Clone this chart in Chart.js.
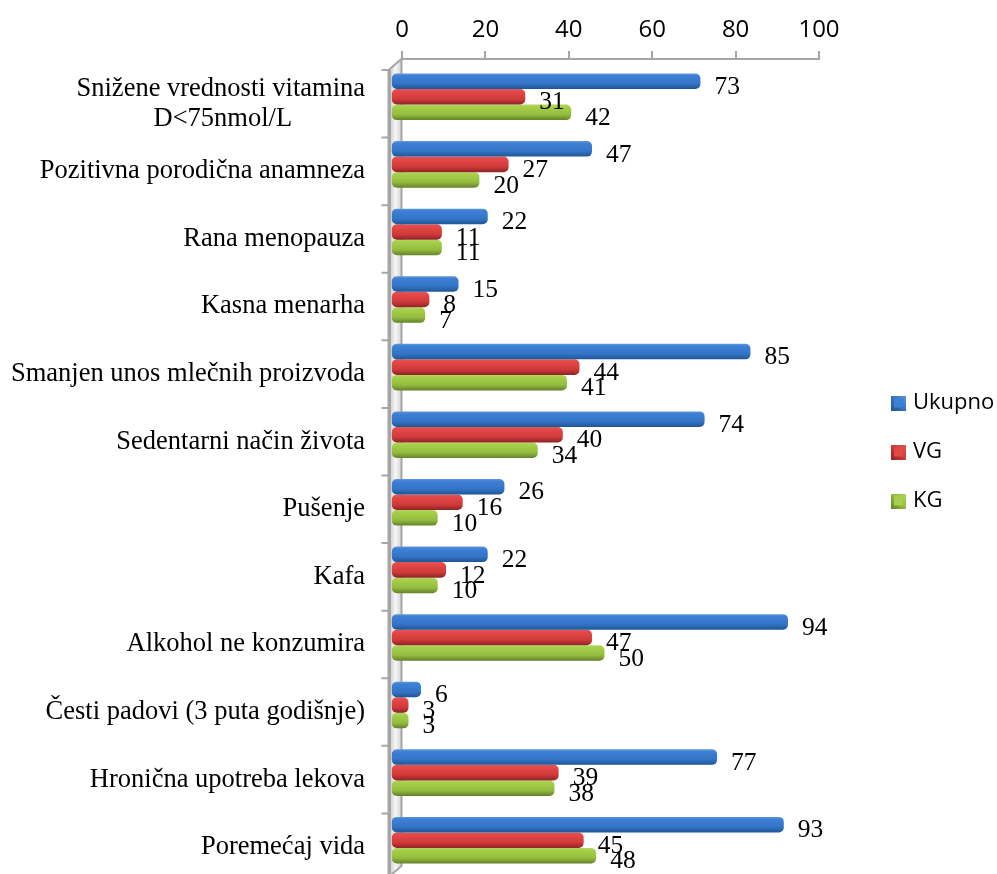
<!DOCTYPE html>
<html>
<head>
<meta charset="utf-8">
<title>Faktori rizika</title>
<script src="https://cdn.jsdelivr.net/npm/chart.js@4"></script>
<style>
    html, body { margin: 0; padding: 0; background: #fff; }
    #wrap { width: 997px; height: 874px; }
</style>
</head>
<body>
<div id="wrap"><canvas id="chart" width="997" height="874"></canvas></div>
<script>
const categories = [
    ["Snižene vrednosti vitamina", "D<75nmol/L"],
    "Pozitivna porodična anamneza",
    "Rana menopauza",
    "Kasna menarha",
    "Smanjen unos mlečnih proizvoda",
    "Sedentarni način života",
    "Pušenje",
    "Kafa",
    "Alkohol ne konzumira",
    "Česti padovi (3 puta godišnje)",
    "Hronična upotreba lekova",
    "Poremećaj vida",
];
const ukupno = [73, 47, 22, 15, 85, 74, 26, 22, 94, 6, 77, 93];
const vg = [31, 27, 11, 8, 44, 40, 16, 12, 47, 3, 39, 45];
const kg = [42, 20, 11, 7, 41, 34, 10, 10, 50, 3, 38, 48];
const xTicks = [0, 20, 40, 60, 80, 100];

const GREY = "#a6a6a6";
const SERIF = "'Liberation Serif', 'Times New Roman', serif";
const SANS = "'Open Sans', sans-serif";

// gradient stops top -> bottom, same look as the office 3d bars
const shades = {
    blue: ["#5f97dc", "#3d80d6", "#3474c6", "#1f5595"],
    red: ["#d85a5a", "#e64848", "#d03a3a", "#8e2424"],
    green: ["#b4d660", "#a6d04a", "#93bc3e", "#64802a"],
};

const seriesNames = ["Ukupno", "VG", "KG"];
const seriesValues = [ukupno, vg, kg];
const seriesShades = [shades.blue, shades.red, shades.green];

// bars sit on the front plane, the axis on the back one
const shiftX = -6;
const shiftY = 4;

Chart.BarElement.prototype.draw = function (ctx) {
    const { x, y, base, height } = this.getProps(["x", "y", "base", "height"]);
    const top = y + shiftY - height / 2;
    const stops = seriesShades.find(s => s[1] === this.options.backgroundColor);
    const grad = ctx.createLinearGradient(0, top, 0, top + height);
    grad.addColorStop(0, stops[0]);
    grad.addColorStop(0.15, stops[1]);
    grad.addColorStop(0.65, stops[2]);
    grad.addColorStop(1, stops[3]);
    ctx.save();
    ctx.fillStyle = grad;
    ctx.beginPath();
    ctx.roundRect(base + shiftX, top, x - base, height, 5);
    ctx.fill();
    ctx.restore();
};

function makeSwatch(stops) {
    const c = document.createElement("canvas");
    c.width = 19;
    c.height = 15;
    const g = c.getContext("2d");
    const grad = g.createLinearGradient(4, 15, 19, 0);
    grad.addColorStop(0, stops[3]);
    grad.addColorStop(0.5, stops[2]);
    grad.addColorStop(1, stops[0]);
    g.fillStyle = grad;
    g.fillRect(4, 0, 15, 15);
    g.fillStyle = stops[1];
    g.fillRect(7, 3, 9, 9);
    return c;
}

const wallPlugin = {
    id: "wall",
    afterLayout(chart) {
        // legend lives outside the plot, move it to its place
        const legend = chart.legend;
        legend.left = 864;
        legend.right = 997;
        legend.top = 365;
        legend.bottom = 540;
    },
    beforeDatasetsDraw(chart) {
        const { ctx, chartArea, scales } = chart;
        const backX = chartArea.left - 0.5;
        const frontX = backX - 13;
        const top = chartArea.top;
        const bottom = chartArea.bottom - 4;
        ctx.save();
        const grad = ctx.createLinearGradient(frontX, 0, backX, 0);
        grad.addColorStop(0, "#c4c4c4");
        grad.addColorStop(0.55, "#f7f7f7");
        grad.addColorStop(1, "#d2d2d2");
        ctx.fillStyle = grad;
        ctx.beginPath();
        ctx.moveTo(backX, top);
        ctx.lineTo(backX, bottom);
        ctx.lineTo(frontX, bottom + 11);
        ctx.lineTo(frontX, top + 11);
        ctx.closePath();
        ctx.fill();
        ctx.strokeStyle = GREY;
        ctx.lineWidth = 2;
        ctx.stroke();
        // heavier front edge
        ctx.lineWidth = 3;
        ctx.beginPath();
        ctx.moveTo(frontX + 1, top + 11);
        ctx.lineTo(frontX + 1, bottom + 11);
        ctx.stroke();
        // category ticks on the front edge
        ctx.lineWidth = 2;
        const band = chartArea.height / categories.length;
        ctx.beginPath();
        categories.forEach((c, i) => {
            const py = scales.y.getPixelForValue(i) - band / 2 + 11;
            ctx.moveTo(frontX - 7, py);
            ctx.lineTo(frontX, py);
        });
        ctx.stroke();
        ctx.restore();
    },
    afterDatasetsDraw(chart) {
        const { ctx, scales } = chart;
        ctx.save();
        ctx.font = "25.5px " + SERIF;
        ctx.fillStyle = "#000";
        ctx.textAlign = "left";
        ctx.textBaseline = "middle";
        chart.data.datasets.forEach((ds, d) => {
            chart.getDatasetMeta(d).data.forEach((bar, i) => {
                ctx.fillText(ds.data[i], scales.x.getPixelForValue(ds.data[i]) + 8, bar.y + shiftY + 6);
            });
        });
        ctx.restore();
    },
};

const swatches = seriesShades.map(makeSwatch);

new Chart(document.getElementById("chart").getContext("2d"), {
    type: "bar",
    data: {
        labels: categories,
        datasets: seriesNames.map((name, i) => ({
            label: name,
            data: seriesValues[i],
            backgroundColor: seriesShades[i][1],
            base: -1,
            clip: false,
            categoryPercentage: 0.69,
            barPercentage: 1,
        })),
    },
    options: {
        indexAxis: "y",
        responsive: false,
        animation: false,
        layout: { padding: { left: 0, right: 178, top: 0, bottom: 4 } },
        plugins: {
            tooltip: { enabled: false },
            legend: {
                position: "chartArea",
                align: "start",
                labels: {
                    usePointStyle: true,
                    pointStyleWidth: 11,
                    padding: 27,
                    color: "#000",
                    font: { family: SANS, size: 22 },
                    generateLabels(chart) {
                        return Chart.defaults.plugins.legend.labels.generateLabels(chart)
                            .map((item, i) => ({ ...item, pointStyle: swatches[i] }));
                    },
                },
            },
        },
        scales: {
            x: {
                position: "top",
                min: 0,
                max: 100,
                afterFit(scale) { scale.height = 59; },
                afterBuildTicks(scale) { scale.ticks = xTicks.map(v => ({ value: v })); },
                border: { color: GREY, width: 2 },
                grid: { drawOnChartArea: false, tickLength: 8, color: GREY, lineWidth: 2 },
                ticks: { color: "#000", font: { family: SANS, size: 24 }, padding: 6, maxRotation: 0 },
            },
            y: {
                afterFit(scale) {
                    scale.width = 402;
                    scale.paddingTop = 0;
                    scale.paddingBottom = 0;
                },
                border: { display: false },
                grid: { display: false },
                ticks: {
                    color: "#000",
                    padding: 29,
                    labelOffset: 11,
                    autoSkip: false,
                    font: { family: SERIF, size: 26.5, lineHeight: 1.13 },
                    callback(value, i) {
                        const label = categories[i];
                        // chart.js aligns every line right, the second line is centred in the original
                        if (Array.isArray(label)) return [label[0], label[1] + "\u00a0".repeat(11)];
                        return label;
                    },
                },
            },
        },
    },
    plugins: [wallPlugin],
});
</script>
</body>
</html>
